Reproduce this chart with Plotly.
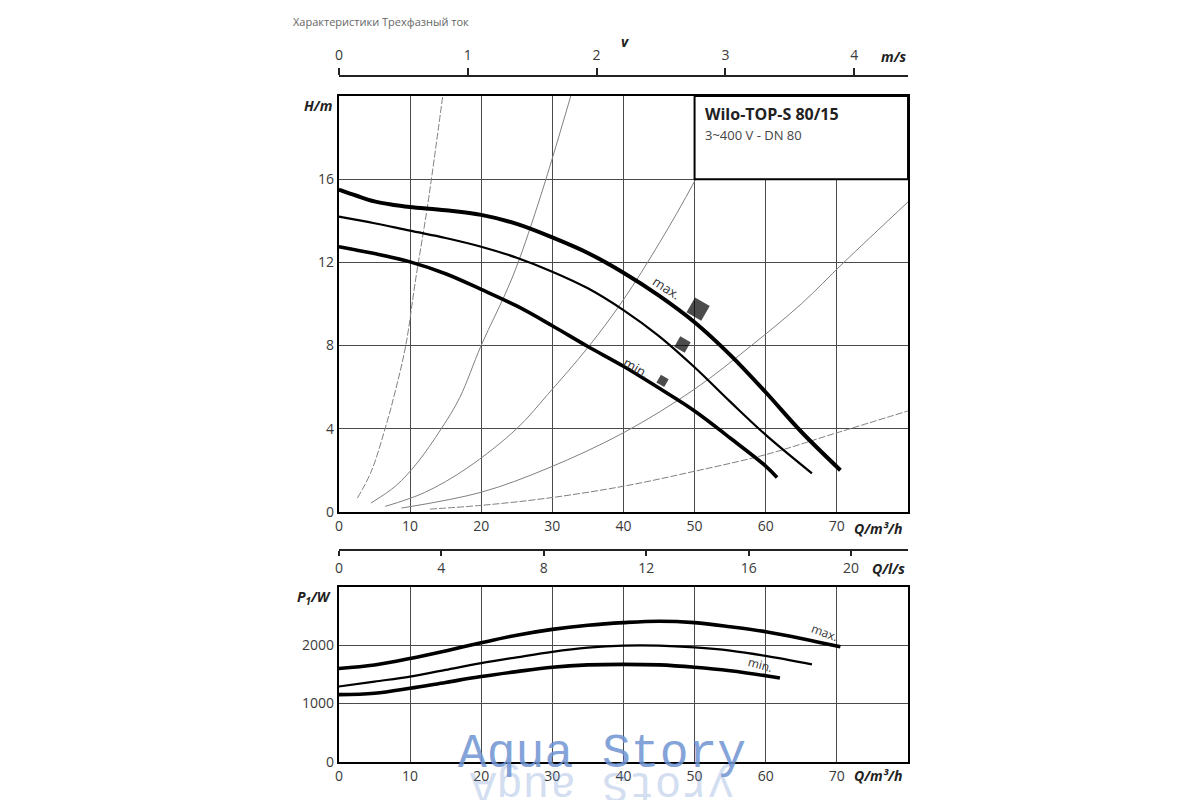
import plotly.graph_objects as go

# pump curves H(Q)
Q_MAX = [0, 2.5, 5, 7.5, 10, 15, 20, 25, 30, 35, 40, 45, 50, 55, 60, 65, 70.5]
H_MAX = [15.5, 15.2, 14.93, 14.77, 14.66, 14.5, 14.28, 13.85, 13.2, 12.45, 11.5, 10.4,
         9.12, 7.55, 5.75, 3.85, 2.0]
Q_MID = [0, 5, 10, 15, 20, 25, 30, 35, 40, 45, 50, 55, 60, 66.5]
H_MID = [14.2, 13.88, 13.52, 13.17, 12.75, 12.22, 11.55, 10.75, 9.7, 8.45, 6.95, 5.3, 3.7, 1.85]
Q_MIN = [0, 5, 10, 15, 20, 25, 30, 35, 40, 45, 50, 55, 60, 61.6]
H_MIN = [12.75, 12.42, 12.02, 11.45, 10.7, 9.9, 8.95, 7.95, 7.0, 5.95, 4.85, 3.55, 2.2, 1.65]

# system curves (thin grey)
SYS1_Q = [2.6, 4.5, 6.5, 8.0, 9.4, 10.8, 12.5, 14.6]
SYS1_H = [0.66, 1.9, 4.0, 5.9, 8.0, 11.2, 14.8, 20.0]
SYS2_Q = [4.5, 8, 11, 14.4, 17, 20, 24.3, 28, 32.6]
SYS2_H = [0.42, 1.25, 2.35, 4.0, 5.5, 8.0, 11.2, 14.8, 20.0]
SYS3_Q = [6.5, 12, 18, 25, 29.4, 35, 40, 45, 50, 56]
SYS3_H = [0.26, 0.92, 2.1, 4.0, 5.66, 7.9, 10.2, 12.9, 15.9, 20.0]
SYS4_Q = [8.8, 20, 29.4, 40, 50, 58, 65, 71, 80]
SYS4_H = [0.18, 0.94, 2.1, 3.8, 5.9, 8.0, 10.0, 12.0, 14.9]
SYS5_Q = [12.8, 20, 29.4, 40, 50, 60, 70, 80]
SYS5_H = [0.13, 0.31, 0.66, 1.23, 1.95, 2.75, 3.8, 4.85]

# best-efficiency markers (max, mid, min)
BEP_Q = [50.5, 48.3, 45.5]
BEP_H = [9.75, 8.05, 6.3]

# power input P1(Q)
PQ_MAX = [0, 5, 10, 15, 20, 25, 30, 35, 40, 45, 50, 55, 60, 65, 70.5]
P_MAX = [1600, 1660, 1770, 1900, 2040, 2170, 2270, 2340, 2385, 2410, 2385, 2315, 2230, 2115, 1970]
PQ_MID = [0, 5, 10, 15, 20, 25, 30, 35, 40, 45, 50, 55, 60, 66.5]
P_MID = [1290, 1375, 1460, 1575, 1690, 1790, 1885, 1955, 1990, 1990, 1960, 1905, 1815, 1670]
PQ_MIN = [0, 5, 10, 15, 20, 25, 30, 35, 40, 45, 50, 55, 60, 62]
P_MIN = [1150, 1175, 1260, 1360, 1460, 1545, 1620, 1660, 1670, 1660, 1620, 1560, 1475, 1435]

Q_TICKS = [0, 10, 20, 30, 40, 50, 60, 70]
H_TICKS = [0, 4, 8, 12, 16]
P_TICKS = [0, 1000, 2000]
V_TICKS = [0, 1, 2, 3, 4]
QL_TICKS = [0, 4, 8, 12, 16, 20]

FONT = "Open Sans"
GRID = "#4a4a4a"
TICKFONT = dict(family=FONT, size=14, color="#3a3a3a")


# pixel positions of the reference -> paper fractions (small correction for the capture)
def px_x(px):
    return (px - 2) / 1200


def px_y(py):
    return 1 - py * 1.011 / 800


fig = go.Figure()

for qs, hs, dash in [(SYS1_Q, SYS1_H, "7px,2px"), (SYS2_Q, SYS2_H, "solid"),
                     (SYS3_Q, SYS3_H, "solid"), (SYS4_Q, SYS4_H, "solid"),
                     (SYS5_Q, SYS5_H, "7px,2px")]:
    fig.add_trace(go.Scatter(x=qs, y=hs, mode="lines", line_shape="spline",
                             line=dict(color="#808080", width=1, dash=dash),
                             hoverinfo="skip", showlegend=False))

for qs, hs, w in [(Q_MAX, H_MAX, 4), (Q_MID, H_MID, 2.2), (Q_MIN, H_MIN, 3.6)]:
    fig.add_trace(go.Scatter(x=qs, y=hs, mode="lines", line=dict(color="black", width=w),
                             line_shape="spline", showlegend=False))

fig.add_trace(go.Scatter(x=BEP_Q, y=BEP_H, mode="markers", showlegend=False,
                         marker=dict(symbol="square", color="black", size=[17, 12, 9],
                                     angle=30, line=dict(width=0))))

for qs, ps, w in [(PQ_MAX, P_MAX, 3.6), (PQ_MID, P_MID, 2.2), (PQ_MIN, P_MIN, 3.6)]:
    fig.add_trace(go.Scatter(x=qs, y=ps, mode="lines", line=dict(color="black", width=w),
                             line_shape="spline", xaxis="x2", yaxis="y2", showlegend=False))

# carriers for the secondary scales (velocity, l/s)
fig.add_trace(go.Scatter(x=V_TICKS, y=[0] * len(V_TICKS), xaxis="x3", yaxis="y",
                         mode="markers", opacity=0, hoverinfo="skip", showlegend=False))
fig.add_trace(go.Scatter(x=QL_TICKS, y=[0] * len(QL_TICKS), xaxis="x4", yaxis="y2",
                         mode="markers", opacity=0, hoverinfo="skip", showlegend=False))

axis_common = dict(showline=True, linecolor="black", linewidth=2, mirror=True, ticks="",
                   showgrid=True, gridcolor=GRID, gridwidth=1.2, zeroline=False,
                   tickfont=TICKFONT)

fig.update_layout(
    width=1200, height=800, margin=dict(l=0, r=0, t=0, b=0),
    paper_bgcolor="white", plot_bgcolor="white",
    xaxis=dict(domain=[px_x(338), px_x(909)], range=[0, 80], anchor="y",
               tickvals=Q_TICKS, **axis_common),
    yaxis=dict(domain=[px_y(512), px_y(96)], range=[0, 20], anchor="x",
               tickvals=H_TICKS, **axis_common),
    xaxis2=dict(domain=[px_x(338), px_x(909)], range=[0, 80], anchor="y2",
                tickvals=Q_TICKS, **axis_common),
    yaxis2=dict(domain=[px_y(762), px_y(587)], range=[0, 3000], anchor="x2",
                tickvals=P_TICKS, **axis_common),
    xaxis3=dict(overlaying="x", anchor="free", position=px_y(76), side="top",
                range=[0, 4.417], tickvals=V_TICKS, showline=True, linecolor="#222",
                linewidth=2, ticks="outside", ticklen=7, tickwidth=2, tickcolor="#222",
                ticklabelstandoff=2, showgrid=False, zeroline=False, tickfont=TICKFONT),
    xaxis4=dict(overlaying="x2", anchor="free", position=px_y(550), side="bottom",
                range=[0, 80 / 3.6], tickvals=QL_TICKS, showline=True, linecolor="#222",
                linewidth=2, ticks="outside", ticklen=5, tickwidth=2, tickcolor="#222",
                showgrid=False, zeroline=False, tickfont=TICKFONT),
)

# type-plate box in the upper-right corner
fig.add_shape(type="rect", xref="x", yref="y", x0=50, x1=80, y0=16, y1=20,
              fillcolor="white", line=dict(color="black", width=2), layer="above")

ann = []
ann.append(dict(x=51.2, y=19.15, xref="x", yref="y", xanchor="left", showarrow=False,
                text="<b>Wilo-TOP-S 80/15</b>", font=dict(family=FONT, size=16, color="#222")))
ann.append(dict(x=51.2, y=18.1, xref="x", yref="y", xanchor="left", showarrow=False,
                text="3~400 V - DN 80", font=dict(family=FONT, size=13, color="#444")))
ann.append(dict(x=46.1, y=10.77, xref="x", yref="y", showarrow=False, textangle=33,
                text="max.", font=dict(family=FONT, size=13, color="#333")))
ann.append(dict(x=41.9, y=6.93, xref="x", yref="y", showarrow=False, textangle=30,
                text="min.", font=dict(family=FONT, size=13, color="#333")))
ann.append(dict(x=68.3, y=2210, xref="x2", yref="y2", showarrow=False, textangle=20,
                text="max.", font=dict(family=FONT, size=12, color="#333")))
ann.append(dict(x=59.2, y=1665, xref="x2", yref="y2", showarrow=False, textangle=15,
                text="min.", font=dict(family=FONT, size=12, color="#333")))

unit_font = dict(family=FONT, size=14, color="#222")
for txt, px, py, anchor in [("<b><i>H/m</i></b>", 317, 106, "center"),
                            ("<b><i>Q/m³/h</i></b>", 853, 529, "left"),
                            ("<b><i>m/s</i></b>", 880, 57, "left"),
                            ("<b><i>v</i></b>", 625, 42, "center"),
                            ("<b><i>Q/l/s</i></b>", 871, 569, "left"),
                            ("<b><i>P<sub>1</sub>/W</i></b>", 313, 598, "center"),
                            ("<b><i>Q/m³/h</i></b>", 853, 776, "left")]:
    ann.append(dict(x=px_x(px), y=px_y(py), xref="paper", yref="paper", showarrow=False,
                    xanchor=anchor, yanchor="middle", text=txt, font=unit_font))

ann.append(dict(x=px_x(290), y=px_y(22), xref="paper", yref="paper", xanchor="left",
                yanchor="middle", showarrow=False, text="Характеристики Трехфазный ток",
                font=dict(family=FONT, size=11, color="#666")))

# watermark and its reflection
ann.append(dict(x=px_x(602), y=px_y(754), xref="paper", yref="paper", showarrow=False,
                xanchor="center", yanchor="middle", text="Aqua Story",
                font=dict(family="Liberation Mono", size=48, color="#6f93d2"), opacity=0.85))
ann.append(dict(x=px_x(602), y=px_y(786), xref="paper", yref="paper", showarrow=False,
                xanchor="center", yanchor="middle", text="yrotS augA", textangle=180,
                font=dict(family="Liberation Mono", size=44, color="#6f93d2"), opacity=0.3))

fig.update_layout(annotations=ann)

fig.write_html("out.html", config={"displayModeBar": False},
               post_script="document.body.style.margin = '0'; "
                           "document.body.style.overflow = 'hidden';")
